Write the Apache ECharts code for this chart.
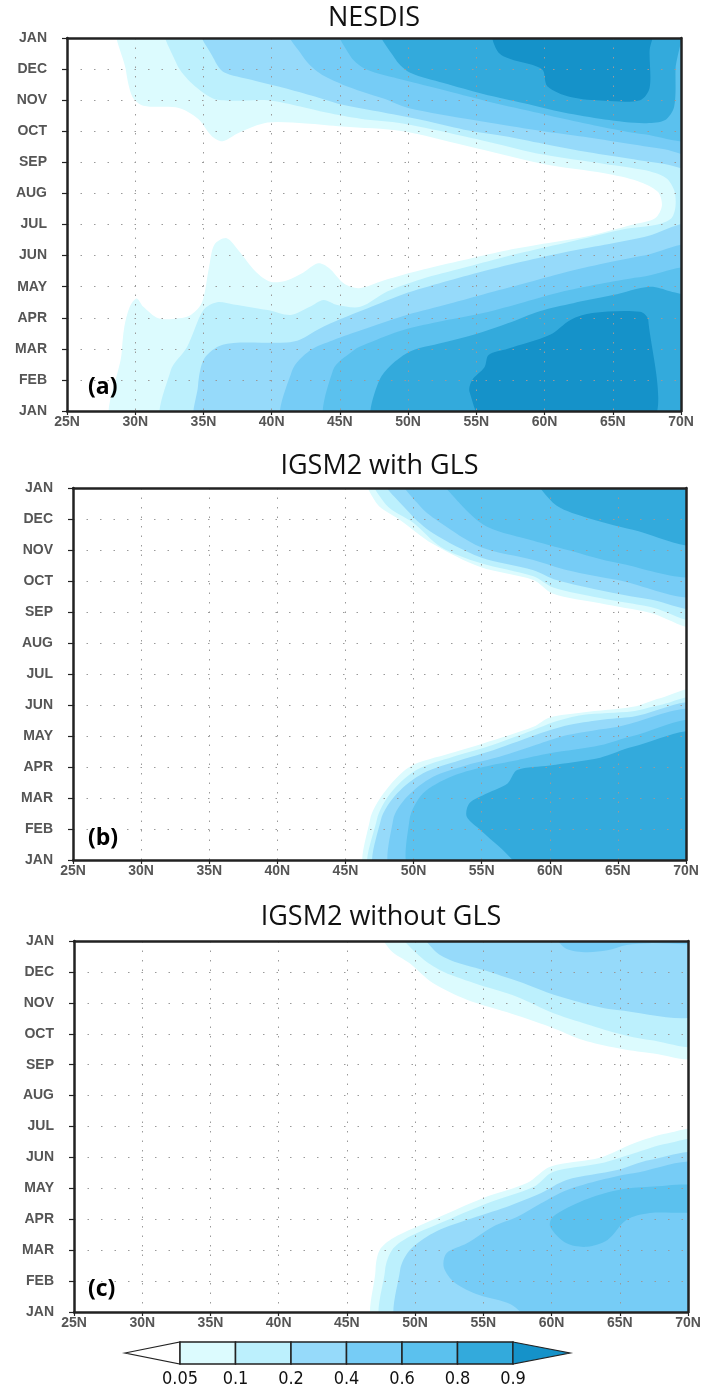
<!DOCTYPE html>
<html><head><meta charset="utf-8">
<script src="https://cdn.jsdelivr.net/npm/echarts@6/dist/echarts.min.js"></script>
<style>html,body{margin:0;padding:0;background:#fff;}#c{width:708px;height:1389px;}</style>
</head><body><div id="c"></div>
<script>
// ---------- axis tick labels ----------
const monthLabels = ['JAN','FEB','MAR','APR','MAY','JUN','JUL','AUG','SEP','OCT','NOV','DEC','JAN'];
const latLabels = ['25N','30N','35N','40N','45N','50N','55N','60N','65N','70N'];
// ---------- contour levels ----------
const levelValues = ['0.05','0.1','0.2','0.4','0.6','0.8','0.9'];
const levelColors = ['#dcfbfe','#bcf0fd','#96dafa','#76ccf6','#5bc1ee','#33aadc','#1592c9'];
const panelTitles = ['NESDIS','IGSM2 with GLS','IGSM2 without GLS'];
const panelTags = ['(a)','(b)','(c)'];

// Contour bands: [levelIndex, polygon of [latitude(deg N), month (0=JAN ... 12=next JAN)]]
const nesdisBands = [
  [0, [[28.9,12],[29.3,11.0],[29.8,10.1],[30.6,9.82],[33.2,9.75],[34.6,9.4],[35.6,8.85],[36.4,8.68],[37.6,8.95],[39.7,9.28],[42.5,9.25],[45.2,9.15],[49.6,9.0],[54.1,8.55],[59.9,7.95],[64.4,7.65],[66.8,7.4],[68.3,7.05],[68.6,6.6],[68.1,6.2],[66.5,6.0],[62.9,5.6],[59.5,5.35],[57,5.15],[54,4.85],[51.1,4.55],[48.2,4.2],[46.4,3.95],[45.3,4.1],[44.2,4.6],[43.4,4.75],[42.3,4.45],[41.1,4.2],[39.9,4.16],[38.8,4.5],[37.6,5.15],[36.7,5.56],[35.8,5.35],[35.4,4.6],[34.9,3.5],[34.1,3.1],[33.2,2.98],[31.7,2.98],[30.6,3.35],[30.1,3.62],[29.6,3.35],[29.2,2.7],[29.0,1.85],[28.6,0],[70,0],[70,12]]],
  [1, [[32.3,12],[33.0,11.2],[34.0,10.6],[35.7,10.05],[37,9.98],[39.7,10.0],[42.1,9.8],[44,9.6],[46.5,9.4],[49.6,9.25],[54,8.85],[56,8.65],[59.9,8.25],[64.4,7.95],[67.3,7.75],[68.9,7.5],[69.5,7.1],[69.6,6.6],[69.3,6.2],[68.3,6.0],[65.8,5.85],[62.9,5.55],[59.9,5.25],[57,4.95],[54,4.6],[51,4.25],[48.5,3.85],[46.5,3.35],[44.8,3.41],[43.8,3.57],[42.8,3.35],[41.4,3.09],[39.7,3.25],[37.2,3.43],[36,3.5],[35,3.25],[33.8,2.06],[32.6,1.3],[32.2,0],[70,0],[70,12]]],
  [2, [[34.8,12],[35.8,11.3],[36.5,10.9],[38.5,10.66],[40.5,10.44],[42.9,10.15],[45.2,9.85],[48.2,9.6],[51.1,9.35],[54.1,9.05],[57,8.85],[59.9,8.6],[62.9,8.35],[65.8,8.15],[68.8,7.95],[70,7.85],[70,12]]],
  [2, [[70,5.94],[67.3,5.6],[64.4,5.35],[61.4,5.1],[58.5,4.82],[55.5,4.5],[52.6,4.15],[49.6,3.75],[47,3.3],[45,2.95],[43.5,2.65],[42.1,2.3],[41.1,2.2],[37.2,2.19],[36,2.06],[35,1.64],[34.6,0.8],[34.6,0],[70,0]]],
  [3, [[41.1,12],[42.3,11.4],[43.5,10.87],[45.2,10.5],[48.2,10.05],[50,9.75],[54.8,9.36],[57,9.2],[59.9,9.0],[62.9,8.82],[65.8,8.62],[68.8,8.42],[70,8.3],[70,12]]],
  [3, [[70,5.24],[67.3,5.0],[64.4,4.75],[61.4,4.45],[58.5,4.1],[55.5,3.75],[52.6,3.4],[49.6,3.05],[46.7,2.62],[44.5,2.28],[42.8,1.95],[41.5,1.3],[41,0],[70,0]]],
  [4, [[44.9,12],[45.8,11.4],[47,10.98],[49.6,10.66],[52.6,10.33],[55.5,10.0],[58.5,9.69],[61.4,9.4],[64.4,9.12],[67.3,8.9],[70,8.8],[70,12]]],
  [4, [[70,4.5],[67.3,4.33],[64.4,4.12],[61.4,3.85],[58.5,3.5],[55.5,3.15],[52.6,2.9],[49.6,2.6],[47,2.17],[46,1.95],[44.5,1.32],[44.2,0],[70,0]]],
  [5, [[47.9,12],[49.1,11.3],[50.2,10.87],[52.6,10.55],[55.5,10.2],[58.5,9.9],[61.4,9.6],[64.4,9.38],[67.3,9.26],[68.8,9.35],[69.5,9.8],[69.6,11],[69.7,12]]],
  [5, [[47.6,0],[47.9,1.0],[49.9,1.86],[52.6,2.2],[54.8,2.45],[57.3,2.82],[59.7,3.22],[62.1,3.47],[65,3.73],[67.7,4.0],[69.2,3.85],[70,3.5],[70,0]]],
  [6, [[56.3,12],[56.7,11.5],[59.8,11.0],[60.2,10.45],[61.9,10.1],[64.4,9.98],[67,10.0],[67.7,10.4],[67.7,11.6],[67.9,12]]],
  [6, [[55.8,0],[54.5,0.62],[54.7,1.0],[55.6,1.41],[55.9,1.8],[57.3,2.0],[60.4,2.45],[61.9,2.93],[63.5,3.15],[67,3.19],[67.6,2.93],[67.7,0]]]
];

const withGlsBands = [
  [0, [[46.6,12],[47.3,11.5],[49,10.97],[51.4,10.2],[54.9,9.45],[58.8,9.03],[60.2,8.6],[63.7,8.28],[67.4,7.97],[70,7.55],[70,12]]],
  [1, [[47.0,12],[48.0,11.45],[50,10.87],[52,10.1],[54.9,9.58],[58.8,9.15],[60.2,8.8],[63.7,8.45],[67.4,8.16],[70,7.8],[70,12]]],
  [2, [[47.7,12],[49.7,11.2],[51.4,10.55],[54.9,9.77],[58.8,9.35],[60.5,9.03],[63.7,8.7],[67.4,8.4],[70,8.2],[70,12]]],
  [3, [[49,12],[50.5,11.4],[52,10.87],[54.9,10.1],[58.8,9.68],[61.3,9.35],[65,9.03],[70,8.6],[70,12]]],
  [4, [[52,12],[53.4,11.5],[55.4,10.75],[58.8,10.3],[61.3,10.0],[65,9.58],[70,9.25],[70,12]]],
  [5, [[59,12],[60.3,11.5],[62.5,11.07],[66.1,10.65],[70,10.2],[70,12]]],
  [0, [[46.7,0],[46.8,1.29],[47.8,2.15],[49.7,3.0],[52.7,3.44],[55.1,3.76],[58.8,4.3],[60,4.6],[62.4,4.76],[66.1,4.94],[68.1,5.22],[70,5.45],[70,0]]],
  [1, [[47.0,0],[47.3,1.29],[48.3,2.15],[50.2,2.9],[52.9,3.33],[55.4,3.65],[58.8,4.19],[60.3,4.45],[62.4,4.68],[66.1,4.8],[68.1,5.0],[70,5.18],[70,0]]],
  [2, [[47.4,0],[47.6,1.29],[48.8,2.15],[50.7,2.8],[53.4,3.22],[55.9,3.55],[59.3,4.09],[61.3,4.35],[63.7,4.52],[66.1,4.62],[70,4.95],[70,0]]],
  [3, [[48.6,0],[48.5,1.29],[49.5,2.03],[51.4,2.68],[53.9,3.06],[56.3,3.33],[59.3,3.76],[61.3,4.03],[65,4.3],[70,4.72],[70,0]]],
  [4, [[50,0],[49.7,1.29],[50.7,2.15],[52.7,2.68],[55.1,3.0],[57.6,3.22],[60,3.44],[63.7,3.7],[66.1,4.0],[70,4.4],[70,0]]],
  [5, [[58.8,0],[56.3,0.43],[54.9,0.97],[53.9,1.4],[54.1,1.83],[55.4,2.15],[56.9,2.47],[57.6,2.9],[60,3.05],[63.7,3.3],[66.1,3.65],[70,4.03],[70,0]]]
];

const withoutGlsBands = [
  [0, [[47.4,12],[48.2,11.7],[49.6,11.28],[51.3,10.64],[53.8,10.1],[56.7,9.7],[59.9,9.22],[62.3,8.8],[64.8,8.54],[67.2,8.38],[70,8.31],[70,12]]],
  [1, [[48.7,12],[50.1,11.6],[51.8,11.06],[54.3,10.64],[57.5,10.19],[60.1,9.67],[62.3,9.35],[64.8,9.02],[67.2,8.8],[70,8.7],[70,12]]],
  [2, [[50.4,12],[51.4,11.7],[52.6,11.38],[55,11.06],[57.7,10.67],[59.9,10.3],[62.3,9.99],[64.8,9.77],[70,9.67],[70,12]]],
  [3, [[60.1,12],[60.9,11.8],[62.4,11.64],[64.1,11.7],[65.5,11.87],[67.2,11.93],[70,11.95],[70,12]]],
  [0, [[47.2,0],[47.1,1.36],[47.4,2.0],[48.4,2.39],[51.3,2.98],[55,3.69],[58.2,4.17],[59.9,4.7],[63.6,5.0],[66,5.45],[68.5,5.78],[70,5.83],[70,0]]],
  [1, [[47.8,0],[47.8,1.36],[48.3,2.0],[49.4,2.39],[51.8,2.87],[55.3,3.52],[58.7,4.05],[60.1,4.53],[63.6,4.81],[66,5.13],[68.5,5.45],[70,5.5],[70,0]]],
  [2, [[48.9,0],[48.9,1.36],[49.6,2.0],[51.3,2.55],[53.8,2.98],[56.7,3.4],[59.2,3.84],[61.1,4.27],[64.8,4.59],[67.2,4.92],[70,5.02],[70,0]]],
  [3, [[70,4.7],[66,4.49],[63.6,4.27],[61.1,3.94],[59.2,3.51],[57.5,3.08],[55.7,2.76],[53.8,2.22],[52.3,1.9],[52.1,1.45],[52.9,0.95],[54.7,0.55],[57,0.25],[59.2,0],[70,0]]],
  [4, [[70,4.05],[67.2,4.05],[64.8,3.94],[62.4,3.62],[60.1,3.08],[59.9,2.76],[61.1,2.22],[62.6,2.11],[64.1,2.33],[65.5,2.98],[67.2,3.2],[70,3.3]]]
];

const panels = [nesdisBands, withGlsBands, withoutGlsBands];

// ---------- layout ----------
const grids = [
  {left:67, top:38, width:614, height:373},
  {left:73, top:488, width:613, height:372},
  {left:74, top:941, width:614, height:371}
];
const titleTops = [5, 453, 904];
const tagTops = [391, 842, 1293];

const FRAME = '#222';
const LABEL_FONT = 'Liberation Sans, Arial, sans-serif';
const xAxes = [], yAxes = [], series = [], titles = [], graphics = [];

grids.forEach((g, gi) => {
  xAxes.push({
    gridIndex: gi, type: 'value', min: 25, max: 70, interval: 5, position: 'bottom', z: 10,
    axisLine: {show: true, onZero: false, lineStyle: {color: FRAME, width: 2.5}},
    axisTick: {show: true, inside: false, length: 4, lineStyle: {color: FRAME, width: 1.2}},
    axisLabel: {formatter: v => latLabels[Math.round((v - 25) / 5)], color: '#555', fontSize: 14, fontWeight: 'bold', margin: 4, fontFamily: LABEL_FONT},
    splitLine: {show: true, lineStyle: {color: '#9a9a9a', type: [1.5, 8], width: 1}}
  });
  xAxes.push({
    gridIndex: gi, type: 'value', min: 25, max: 70, position: 'top', z: 10,
    axisLine: {show: true, onZero: false, lineStyle: {color: FRAME, width: 2.5}},
    axisTick: {show: false}, axisLabel: {show: false}, splitLine: {show: false}
  });
  yAxes.push({
    gridIndex: gi, type: 'value', min: 0, max: 12, interval: 1, position: 'left', z: 10,
    axisLine: {show: true, onZero: false, lineStyle: {color: FRAME, width: 2.5}},
    axisTick: {show: true, inside: false, length: 5, lineStyle: {color: FRAME, width: 1.2}},
    axisLabel: {formatter: v => monthLabels[Math.round(v)], color: '#555', fontSize: 14, fontWeight: 'bold', margin: 20, fontFamily: LABEL_FONT},
    splitLine: {show: true, lineStyle: {color: '#9a9a9a', type: [1.5, 12], width: 1}}
  });
  yAxes.push({
    gridIndex: gi, type: 'value', min: 0, max: 12, position: 'right', z: 10,
    axisLine: {show: true, onZero: false, lineStyle: {color: FRAME, width: 2.5}},
    axisTick: {show: false}, axisLabel: {show: false}, splitLine: {show: false}
  });

  panels[gi].forEach(([lvl, pts]) => {
    series.push({
      type: 'custom', xAxisIndex: gi * 2, yAxisIndex: gi * 2, clip: true, silent: true, z: 2,
      data: pts, encode: {x: 0, y: 1},
      renderItem: (params, api) => {
        if (params.dataIndex !== 0) return null;
        const P = pts.map(p => {
          const c = api.coord(p);
          if (p[0] <= 25) c[0] -= 14;
          if (p[0] >= 70) c[0] += 14;
          if (p[1] <= 0) c[1] += 14;
          if (p[1] >= 12) c[1] -= 14;
          return c;
        });
        return {type: 'polygon', shape: {points: P, smooth: 0.3}, style: {fill: levelColors[lvl], stroke: null, lineWidth: 0}};
      }
    });
  });

  titles.push({
    text: panelTitles[gi], left: g.left + g.width / 2, top: titleTops[gi], textAlign: 'center', padding: 0,
    textStyle: {fontFamily: 'Open Sans, Noto Sans, sans-serif', fontSize: 27, fontWeight: 'normal', color: '#111'}
  });
  graphics.push({
    type: 'text', left: 88, top: tagTops[gi] - 15, z: 100,
    style: {text: panelTags[gi], font: 'bold 23px "Open Sans", "Noto Sans", sans-serif', fill: '#000'}
  });
});

// ---------- colour bar ----------
const cb = {x0: 180, w: 55.5, y: 1342, h: 22, tipL: 125, tipR: 570};
graphics.push({
  type: 'polygon', z: 50,
  shape: {points: [[cb.tipL, cb.y + cb.h / 2], [cb.x0, cb.y], [cb.x0, cb.y + cb.h]]},
  style: {fill: '#fff', stroke: '#222', lineWidth: 1.2}
});
for (let i = 0; i < levelColors.length - 1; i++) {
  graphics.push({
    type: 'rect', z: 50,
    shape: {x: cb.x0 + i * cb.w, y: cb.y, width: cb.w, height: cb.h},
    style: {fill: levelColors[i], stroke: '#222', lineWidth: 1.5}
  });
}
const xEnd = cb.x0 + (levelColors.length - 1) * cb.w;
graphics.push({
  type: 'polygon', z: 50,
  shape: {points: [[xEnd, cb.y], [cb.tipR, cb.y + cb.h / 2], [xEnd, cb.y + cb.h]]},
  style: {fill: levelColors[levelColors.length - 1], stroke: '#222', lineWidth: 1.2}
});
levelValues.forEach((v, i) => {
  graphics.push({
    type: 'text', z: 50, x: cb.x0 + i * cb.w, y: cb.y + cb.h + 15,
    style: {text: v, font: '18px "DejaVu Sans Condensed", "DejaVu Sans", sans-serif', fill: '#111', textAlign: 'center', textVerticalAlign: 'middle'}
  });
});

const chart = echarts.init(document.getElementById('c'), null, {renderer: 'canvas'});
chart.setOption({
  animation: false,
  backgroundColor: '#fff',
  title: titles,
  grid: grids.map(g => Object.assign({containLabel: false, outerBoundsMode: 'none'}, g)),
  xAxis: xAxes,
  yAxis: yAxes,
  series: series,
  graphic: graphics
});
</script></body></html>
